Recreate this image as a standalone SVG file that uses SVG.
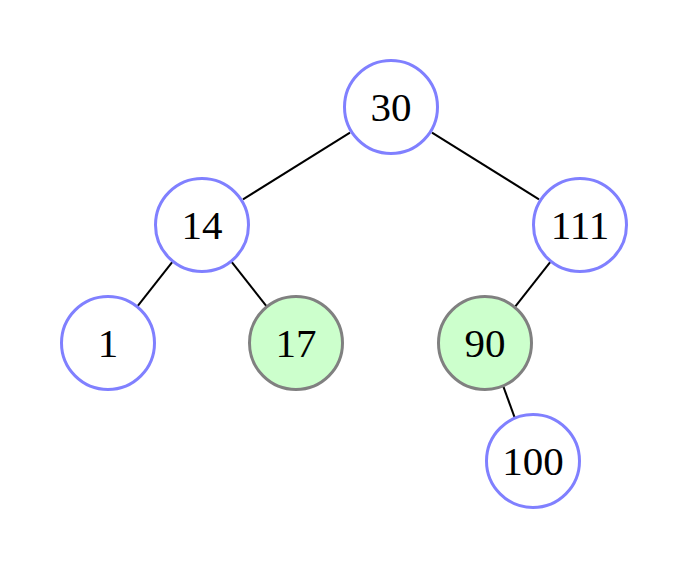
<svg xmlns="http://www.w3.org/2000/svg" width="688" height="570" viewBox="0 0 688 570">
<style>
.n circle{stroke-width:3;}
.b circle{fill:#fff;stroke:#8080ff;}
.g circle{fill:#ccffcc;stroke:#808080;}
.n text{font-family:"Liberation Serif","DejaVu Serif",serif;font-size:41px;fill:#000;text-anchor:middle;}
.e line{stroke:#000;stroke-width:2;}
</style>
<rect width="688" height="570" fill="#fff"/>
<g id="edges" class="e">
<line x1="350" y1="132.6" x2="243" y2="199.4"/>
<line x1="432" y1="132.6" x2="539" y2="199.4"/>
<line x1="172.6" y1="261.7" x2="137.4" y2="306.3"/>
<line x1="231.4" y1="261.7" x2="266.6" y2="306.3"/>
<line x1="550.6" y1="261.7" x2="515.4" y2="306.3"/>
<line x1="503.4" y1="386.6" x2="514.6" y2="417.4"/>
</g>
<g id="n30" class="n b"><circle cx="391" cy="107" r="46.5"/><text x="391" y="121">30</text></g>
<g id="n14" class="n b"><circle cx="202" cy="225" r="46.5"/><text x="202" y="239">14</text></g>
<g id="n111" class="n b"><circle cx="580" cy="225" r="46.5"/><text x="580" y="239">111</text></g>
<g id="n1" class="n b"><circle cx="108" cy="343" r="46.5"/><text x="108" y="357">1</text></g>
<g id="n17" class="n g"><circle cx="296" cy="343" r="46.5"/><text x="296" y="357">17</text></g>
<g id="n90" class="n g"><circle cx="485" cy="343" r="46.5"/><text x="485" y="357">90</text></g>
<g id="n100" class="n b"><circle cx="533" cy="461" r="46.5"/><text x="533" y="475">100</text></g>
</svg>
